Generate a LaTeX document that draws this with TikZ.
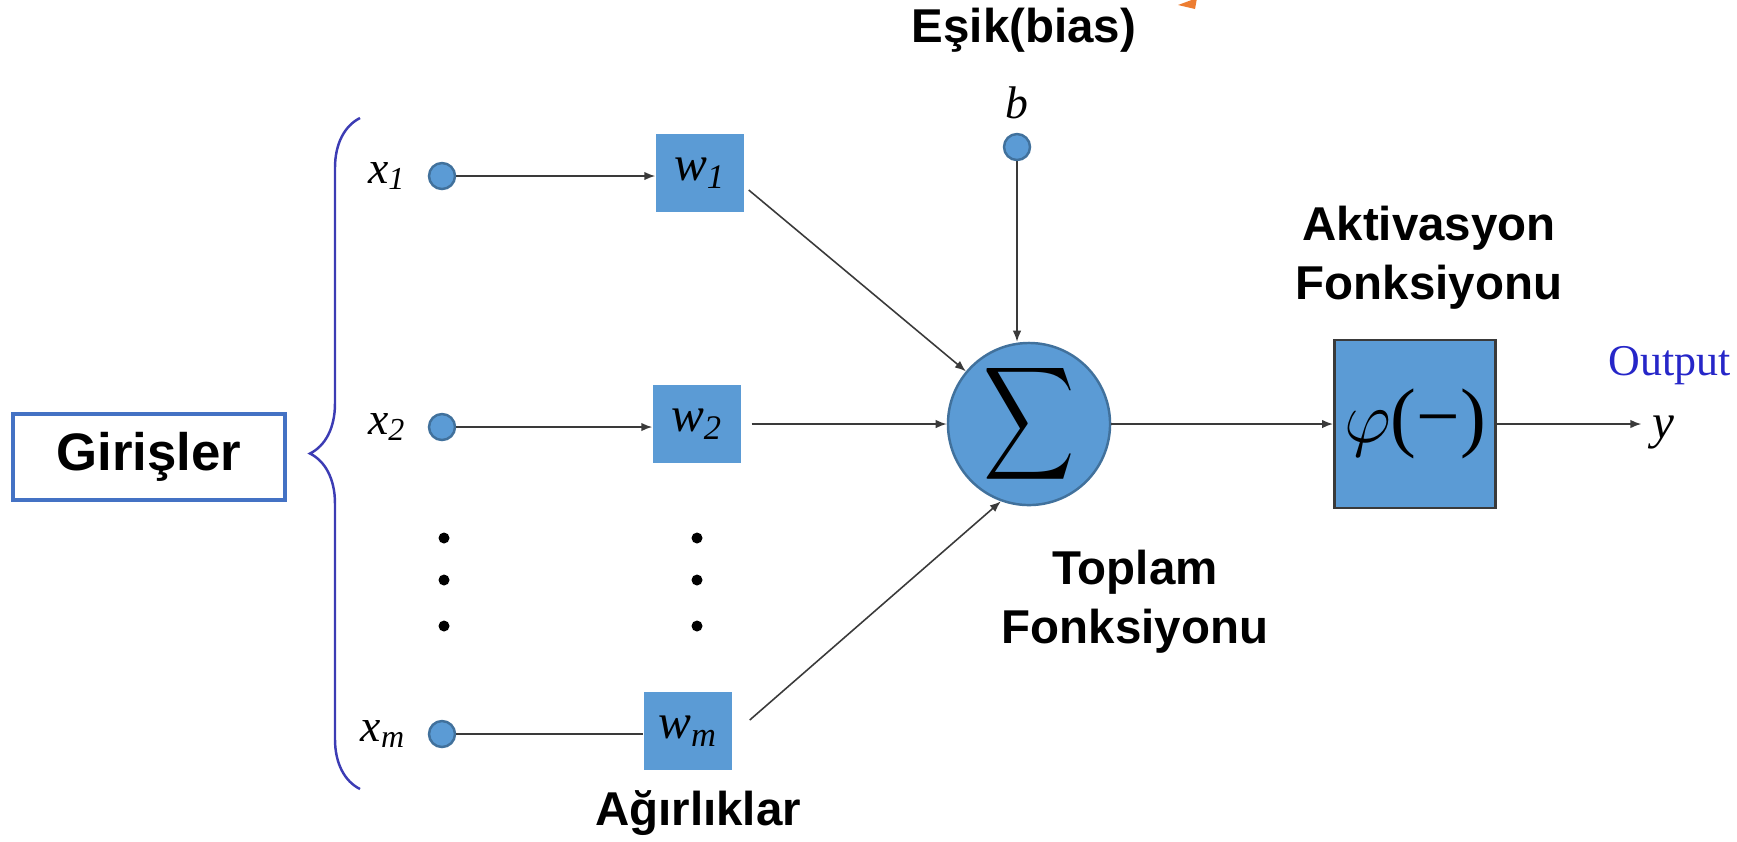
\documentclass[tikz,border=0pt]{standalone}
\usepackage{fontspec}
\setmainfont{Liberation Serif}
\setsansfont{Liberation Sans}
\usetikzlibrary{arrows.meta,positioning,decorations.pathreplacing}
\definecolor{kutumavi}{HTML}{5B9BD5}
\definecolor{kenarmavi}{HTML}{41719C}
\definecolor{cizgi}{HTML}{3A3A3A}
\definecolor{parantez}{HTML}{3C3CB4}
\definecolor{cercevemavi}{HTML}{4472C4}
\definecolor{ciktimavi}{HTML}{2626C8}
\definecolor{turuncu}{HTML}{ED7D31}

\begin{document}
\begin{tikzpicture}[x=0.01cm,y=-0.01cm,
  giris/.style={circle,fill=kutumavi,draw=kenarmavi,line width=0.7pt,minimum size=0.26cm,inner sep=0pt},
  agirlik/.style={fill=kutumavi,minimum width=0.88cm,minimum height=0.78cm,inner sep=0pt,font=\fontsize{14}{16}\selectfont\itshape},
  baslik/.style={font=\sffamily\bfseries\fontsize{13.5}{16.7}\selectfont,align=center,inner sep=0pt},
  etiket/.style={font=\fontsize{13}{15}\selectfont\itshape,inner sep=0pt},
  ok/.style={draw=cizgi,line width=0.45pt,-{Latex[length=1.1mm,width=0.85mm]}}]
\useasboundingbox (0,0) rectangle (1737,841);

% girisler
\node[draw=cercevemavi,line width=1.2pt,minimum width=2.72cm,minimum height=0.86cm,
  font=\sffamily\bfseries\fontsize{15}{18}\selectfont] (girisler) at (149,457) {Girişler};
\draw[parantez,line width=0.7pt,decorate,decoration={brace,amplitude=0.5cm}] (360,789) -- (360,118);

\node[giris] (x1) at (442,176) {};
\node[giris] (x2) at (442,427) {};
\node[giris] (xm) at (442,734) {};
\node[etiket,left=0.21cm of x1] (x1lbl) {x\textsubscript{1}};
\node[etiket,left=0.21cm of x2] (x2lbl) {x\textsubscript{2}};
\node[etiket,left=0.21cm of xm] (xmlbl) {x\textsubscript{m}};

% agirliklar
\node[agirlik] (w1) at (700,173) {w\textsubscript{1}};
\node[agirlik] (w2) at (697,424) {w\textsubscript{2}};
\node[agirlik] (wm) at (688,731) {w\textsubscript{m}};
\node[baslik] (agirliklar) at (698,813) {Ağırlıklar};

\foreach \yy in {538,580,626} {
  \fill (444,\yy) circle (0.055cm);
  \fill (697,\yy) circle (0.055cm);
}

% esik ve toplam
\node[baslik] (esik) at (1024,30) {Eşik(bias)};
\fill[turuncu] (1178,5) -- (1197,-2) -- (1195,9) -- cycle;
\node[giris] (bdot) at (1017,147) {};
\node[etiket,above=0.13cm of bdot] (blbl) {b};

\node[circle,fill=kutumavi,draw=kenarmavi,line width=0.7pt,minimum size=1.62cm,inner sep=0pt]
  (toplam) at (1029,424) {\raisebox{-0.05cm}{\scalebox{1.8}[2.25]{$\displaystyle\sum$}}};
\node[baslik] (toplamlbl) at (1135,602) {Toplam\\Fonksiyonu};

% aktivasyon
\node[fill=kutumavi,draw=cizgi,line width=0.8pt,minimum width=1.61cm,minimum height=1.68cm,inner sep=0pt,
  font=\fontsize{22}{24}\selectfont] (aktiv) at (1415,424) {$\varphi$(−)};
\node[baslik] (aktivlbl) at (1429,258) {Aktivasyon\\Fonksiyonu};
\node[inner sep=0pt,text=ciktimavi,font=\fontsize{12.5}{14}\selectfont] (cikti) at (1670,366) {Output};
\node[inner sep=0pt,font=\fontsize{14}{16}\selectfont\itshape] (ycikti) at (1663,432) {y};

% baglantilar
\draw[ok] (x1) -- (x1 -| w1.west);
\draw[ok] (x2) -- (x2 -| w2.west);
\draw[draw=cizgi,line width=0.45pt] (xm) -- (xm -| wm.west);
\draw[ok] ([xshift=0.04cm,yshift=-0.17cm]w1.east) -- (toplam);
\draw[ok,shorten <=0.1cm] (w2) -- (toplam);
\draw[ok] ([xshift=0.17cm,yshift=0.11cm]wm.east) -- (toplam.250);
\draw[ok] (bdot) -- (bdot |- toplam.north);
\draw[ok] (toplam) -- (aktiv);
\draw[ok,shorten >=0.1cm] (aktiv.east) -- (aktiv.east -| ycikti.west);
\end{tikzpicture}
\end{document}
